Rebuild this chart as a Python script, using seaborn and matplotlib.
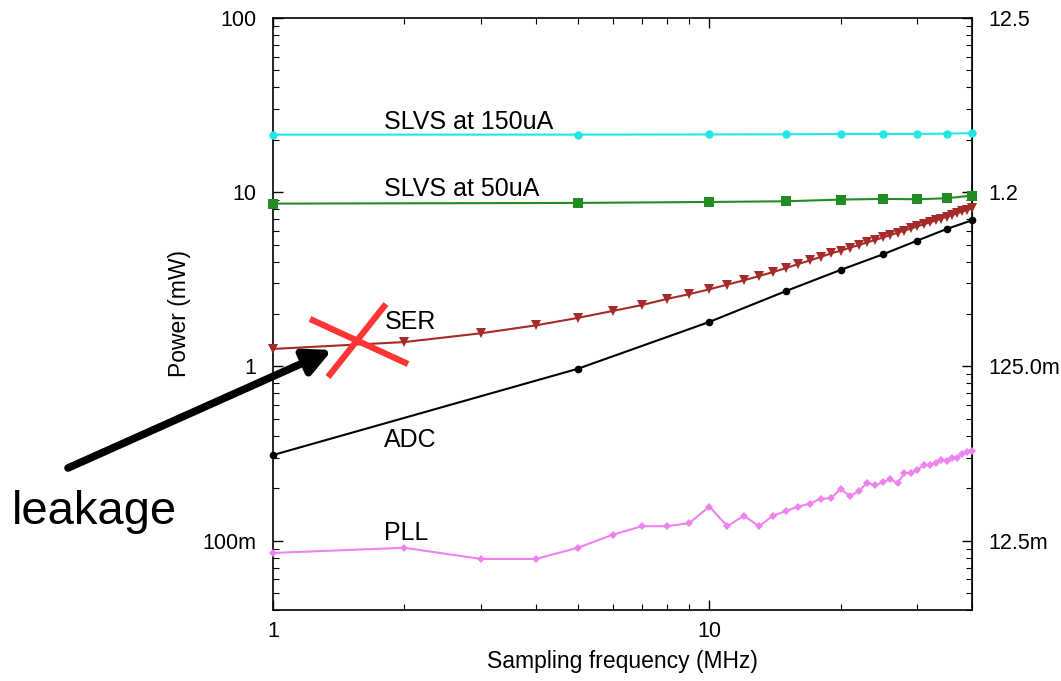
"""Power vs sampling frequency, log-log, gnuplot-like look."""

import numpy as np
import matplotlib
matplotlib.use("Agg")
import matplotlib.pyplot as plt
import seaborn as sns
from matplotlib.lines import Line2D
from matplotlib.ticker import FixedLocator, NullFormatter, LogLocator

# ---- data ----
freq_coarse = [1, 5, 10, 15, 20, 25, 30, 35, 40]
slvs_150 = [21.4, 21.4, 21.45, 21.5, 21.6, 21.6, 21.6, 21.7, 21.8]
slvs_50 = [8.6, 8.68, 8.79, 8.87, 9.07, 9.15, 9.11, 9.23, 9.56]
adc = [0.31, 0.97, 1.80, 2.71, 3.58, 4.40, 5.28, 6.15, 6.90]

freq_fine = list(range(1, 41))
ser = [1.26, 1.38, 1.55, 1.72, 1.90, 2.08, 2.25, 2.44, 2.60, 2.77,
       2.95, 3.12, 3.30, 3.48, 3.67, 3.87, 4.06, 4.25, 4.45, 4.62,
       4.80, 4.97, 5.15, 5.32, 5.50, 5.67, 5.85, 6.02, 6.19, 6.37,
       6.54, 6.71, 6.89, 7.06, 7.23, 7.40, 7.58, 7.75, 7.92, 8.10]
pll = [0.085, 0.091, 0.0785, 0.0785, 0.091, 0.108, 0.121, 0.121, 0.126, 0.157,
       0.121, 0.139, 0.121, 0.139, 0.148, 0.157, 0.163, 0.174, 0.175, 0.198,
       0.180, 0.192, 0.215, 0.208, 0.216, 0.226, 0.213, 0.245, 0.244, 0.256,
       0.270, 0.273, 0.280, 0.291, 0.286, 0.297, 0.298, 0.315, 0.321, 0.326]

y_ticks = [0.1, 1, 10, 100]
y_tick_labels = ["100m", "1", "10", "100"]
right_ticks = [0.0125, 0.125, 1.25, 12.5]
right_tick_labels = ["12.5m", "125.0m", "1.2", "12.5"]
series_labels = ["SLVS at 150uA", "SLVS at 50uA", "SER", "ADC", "PLL"]
label_y = [25.3, 10.4, 1.79, 0.376, 0.11]

sns.set_style("ticks")
plt.rcParams["font.family"] = ["Liberation Sans", "DejaVu Sans"]
plt.rcParams["text.color"] = "black"
plt.rcParams["axes.labelcolor"] = "black"
plt.rcParams["xtick.color"] = "black"
plt.rcParams["ytick.color"] = "black"
FS = 15.5
FS_LAB = 16.5

fig = plt.figure(figsize=(10.61, 6.81), dpi=100)
ax = fig.add_axes([0.2573, 0.1043, 0.6588, 0.8693])

styles = [
    (freq_coarse, slvs_150, "#22e6e6", "o", 6),
    (freq_coarse, slvs_50, "#228b22", "s", 6.5),
    (freq_fine, ser, "#a52a2a", "v", 7),
    (freq_coarse, adc, "black", "o", 5.5),
    (freq_fine, pll, "#ee82ee", "D", 4.5),
]
for xs, ys, color, mk, ms in styles:
    sns.lineplot(x=xs, y=ys, ax=ax, color=color, marker=mk, markersize=ms,
                 markeredgewidth=0, linewidth=1.5, clip_on=False, zorder=3)

ax.set_xscale("log")
ax.set_yscale("log")
ax.set_xlim(1, 40)
ax.set_ylim(0.04, 100)

ax.set_xticks([1, 10])
ax.set_xticklabels(["1", "10"])
ax.xaxis.set_minor_locator(LogLocator(base=10, subs=np.arange(2, 10)))
ax.xaxis.set_minor_formatter(NullFormatter())
ax.set_yticks(y_ticks)
ax.set_yticklabels(y_tick_labels)
ax.yaxis.set_minor_locator(LogLocator(base=10, subs=np.arange(2, 10)))
ax.yaxis.set_minor_formatter(NullFormatter())
ax.tick_params(which="both", direction="in", top=True, right=False,
               labelsize=FS, pad=8)
ax.tick_params(axis="y", pad=12)
ax.tick_params(which="major", length=7, width=1)
ax.tick_params(which="minor", length=4, width=0.8)
for sp in ax.spines.values():
    sp.set_linewidth(1.2)
    sp.set_color("black")

# right axis with the odd gnuplot scale labels
sec = ax.secondary_yaxis("right", functions=(lambda y: y * 0.125,
                                             lambda y: y / 0.125))
sec.set_yticks(right_ticks)
sec.set_yticklabels(right_tick_labels)
minor_r = [0.125 * k * 10.0 ** n for n in range(-2, 2) for k in range(2, 10)]
sec.yaxis.set_minor_locator(FixedLocator(minor_r))
sec.yaxis.set_minor_formatter(NullFormatter())
sec.tick_params(which="both", direction="in", labelsize=FS, pad=12)
sec.tick_params(which="major", length=7, width=1)
sec.tick_params(which="minor", length=4, width=0.8)

ax.set_xlabel("Sampling frequency (MHz)", fontsize=FS_LAB, labelpad=6)
ax.set_ylabel("Power (mW)", fontsize=FS_LAB, labelpad=8)

for txt, yv in zip(series_labels, label_y):
    ax.text(1.8, yv, txt, fontsize=18, va="center", ha="left")

# hand-drawn style annotations
red = "#ff3535"
W, H = 1061, 681
for (x0, y0), (x1, y1) in [((310, 319), (408, 364)), ((328, 377), (386, 304))]:
    fig.add_artist(Line2D([x0 / W, x1 / W], [1 - y0 / H, 1 - y1 / H],
                          transform=fig.transFigure, color=red, lw=4.5,
                          solid_capstyle="butt"))

ax.annotate("", xy=(332 / W, 1 - 350 / H), xytext=(68 / W, 1 - 468 / H),
            xycoords="figure fraction", textcoords="figure fraction",
            arrowprops=dict(arrowstyle="-|>,head_length=1.0,head_width=0.5",
                            mutation_scale=16, lw=5.5, color="black",
                            shrinkA=0, shrinkB=0))
fig.text(12 / W, 1 - 512 / H, "leakage", fontsize=34, va="center", ha="left")

fig.savefig("out.png", dpi=100)
plt.close(fig)
